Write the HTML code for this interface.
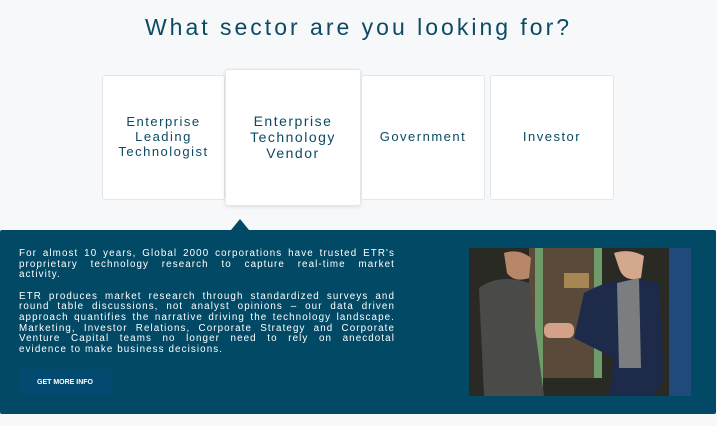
<!DOCTYPE html>
<html><head><meta charset="utf-8"><style>
body{margin:0;width:717px;height:426px;background:#f6f8fa;font-family:"Liberation Sans",sans-serif;position:relative;overflow:hidden}
h1{position:absolute;top:14px;left:0;width:717px;text-align:center;margin:0;font-weight:normal;font-size:23px;letter-spacing:3px;color:#0b4a64}
.card{position:absolute;background:#fff;border:1px solid #e3e6ea;border-radius:3px;display:flex;align-items:center;justify-content:center;text-align:center;color:#0b4a64;letter-spacing:1.5px;font-size:13px;line-height:15px;box-sizing:border-box;padding-bottom:2px}
.panel{position:absolute;left:0;top:230px;width:716px;height:184px;background:#024966;border-radius:2px}
.arrow{position:absolute;left:231px;top:219px;width:0;height:0;border-left:9px solid transparent;border-right:9px solid transparent;border-bottom:11px solid #024966}
.txt{position:absolute;left:19px;top:249px;width:376px;color:#fff;font-size:9.8px;line-height:10.7px;letter-spacing:1.1px;white-space:nowrap}
.txt div{text-align:justify;text-align-last:justify;height:10.7px}
.txt div.l{text-align-last:left}
.gap{height:10.5px!important}
.btn{position:absolute;left:19px;top:369px;width:92px;height:26px;background:#034a70;border-radius:3px;color:#fff;font-size:7px;font-weight:bold;display:flex;align-items:center;justify-content:center}
</style></head><body>
<h1>What sector are you looking for?</h1>
<div class="card" style="left:102px;top:75px;width:123px;height:125px">Enterprise<br>Leading<br>Technologist</div>
<div class="card" style="left:225px;top:69px;width:136px;height:137px;font-size:14px;line-height:16px;box-shadow:0 1px 4px rgba(0,0,0,.1)">Enterprise<br>Technology<br>Vendor</div>
<div class="card" style="left:361px;top:75px;width:124px;height:125px">Government</div>
<div class="card" style="left:490px;top:75px;width:124px;height:125px">Investor</div>
<div class="arrow"></div>
<div class="panel"></div>
<div class="txt">
<div>For almost 10 years, Global 2000 corporations have trusted ETR's</div>
<div>proprietary technology research to capture real-time market</div>
<div class="l">activity.</div>
<div class="gap"></div>
<div>ETR produces market research through standardized surveys and</div>
<div>round table discussions, not analyst opinions – our data driven</div>
<div>approach quantifies the narrative driving the technology landscape.</div>
<div>Marketing, Investor Relations, Corporate Strategy and Corporate</div>
<div>Venture Capital teams no longer need to rely on anecdotal</div>
<div class="l">evidence to make business decisions.</div>
</div>
<div class="btn">GET MORE INFO</div>
<svg style="position:absolute;left:469px;top:248px" width="222" height="148">
<rect width="222" height="148" fill="#2a2a24"/>
<rect x="60" y="0" width="70" height="130" fill="#5a4a3a"/>
<rect x="125" y="0" width="8" height="130" fill="#6f9a6a"/>
<rect x="66" y="0" width="8" height="148" fill="#6f9a6a"/>
<rect x="95" y="25" width="25" height="15" fill="#c9a060" opacity=".7"/>
<rect x="200" y="0" width="22" height="148" fill="#1f4a7a"/>
<path d="M10 40 Q30 25 60 35 L75 148 L15 148 Z" fill="#4a4a48"/>
<path d="M35 5 Q50 0 62 10 L60 30 Q45 35 38 25 Z" fill="#b8876a"/>
<path d="M145 5 Q160 0 175 8 L172 30 Q155 35 150 20 Z" fill="#d4a88c"/>
<path d="M115 45 Q150 25 190 35 L195 130 L185 148 L140 148 L145 110 L105 90 Z" fill="#1e2a4a"/>
<path d="M148 35 L170 30 L172 120 L150 120 Z" fill="#7a7e80"/>
<rect x="75" y="75" width="30" height="15" rx="6" fill="#d4a088"/>
</svg>
</body></html>
